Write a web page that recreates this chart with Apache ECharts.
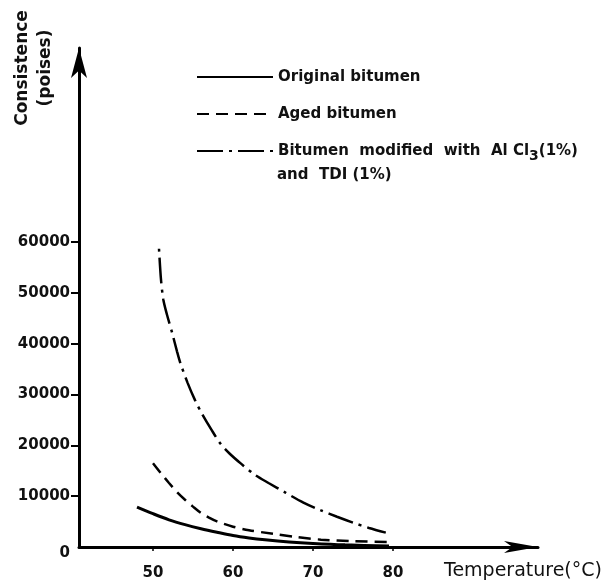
<!DOCTYPE html>
<html>
<head>
<meta charset="utf-8">
<script src="https://cdn.jsdelivr.net/npm/echarts@6/dist/echarts.min.js"></script>
<style>
  html, body { margin: 0; padding: 0; background: #ffffff; }
  #chart { width: 605px; height: 588px; }
</style>
</head>
<body>
<div id="chart"></div>
<script>
// Consistence (poises) of bitumen samples versus temperature (°C)
const seriesNames = [
  'Original bitumen',
  'Aged bitumen',
  'Bitumen modified with Al Cl3(1%) and TDI (1%)'
];

const originalTemp = [48, 50, 52, 54, 56, 58, 60, 62, 64, 67, 70, 74, 79.5];
const originalVisc = [7850, 6550, 5350, 4400, 3600, 2900, 2250, 1780, 1420, 1000, 700, 420, 200];

const agedTemp = [50, 51, 52, 53, 54, 55, 56, 57, 58, 60, 62, 65, 68, 71, 75, 80];
const agedVisc = [16500, 14500, 12600, 10800, 9300, 7950, 6700, 5800, 5050, 4000, 3300, 2600, 1950, 1450, 1150, 950];

const modifiedTemp = [50.75, 51, 51.3, 51.75, 52.4, 53, 53.4, 54.3, 55.25, 56.1, 57.3, 58.4, 59.5, 61, 62.75, 64.5, 66.5, 68.8, 71, 73, 75, 77, 79.1];
const modifiedVisc = [58700, 52600, 48600, 45700, 42100, 38500, 36300, 32400, 28900, 26300, 23100, 20400, 18500, 16400, 14200, 12550, 10750, 8750, 7200, 5950, 4800, 3750, 2830];

const tempTicks = [50, 60, 70, 80];
const viscTicks = [0, 10000, 20000, 30000, 40000, 50000, 60000];

const zip = (xs, ys) => xs.map((x, i) => [x, ys[i]]);
const FONT = 'DejaVu Sans';
const INK = '#111';

const chart = echarts.init(document.getElementById('chart'), null, { renderer: 'canvas' });

// line series without markers; the item colour is kept transparent so the
// legend shows only the stroke pattern
const lineBase = {
  type: 'line', smooth: 0.3, symbol: 'none', silent: true,
  itemStyle: { color: 'rgba(0,0,0,0)', borderWidth: 0 }
};

chart.setOption({
  animation: false,
  backgroundColor: '#ffffff',
  grid: { left: 79, right: 67, top: 48, bottom: 41 },
  legend: {
    left: 196,
    top: 66,
    padding: 0,
    orient: 'vertical',
    itemWidth: 76,
    itemHeight: 14,
    itemGap: 15,
    selectedMode: false,
    data: seriesNames,
    itemStyle: { opacity: 0 },
    lineStyle: { dashOffset: 0 },
    textStyle: {
      fontFamily: FONT, fontWeight: 'bold', fontSize: 15, color: INK,
      lineHeight: 22,
      rich: {
        sub: { fontFamily: FONT, fontWeight: 'bold', fontSize: 14, color: INK, padding: [10, 0, 0, 0] }
      }
    },
    formatter: function (name) {
      if (name === seriesNames[2]) {
        return 'Bitumen  modified  with  Al Cl{sub|3}(1%)';
      }
      return name;
    }
  },
  xAxis: {
    type: 'value',
    min: 40.75,
    max: 98.125,
    splitLine: { show: false },
    axisLine: {
      show: true,
      onZero: false,
      symbol: ['none', 'arrow'],
      symbolSize: [9, 34],
      lineStyle: { color: '#000', width: 3 }
    },
    axisTick: { show: true, inside: false, length: 4, customValues: tempTicks, lineStyle: { color: '#000', width: 1.5 } },
    axisLabel: {
      customValues: tempTicks,
      margin: 19,
      fontFamily: FONT, fontWeight: 'bold', fontSize: 15, color: INK
    }
  },
  yAxis: {
    type: 'value',
    min: 0,
    max: 98200,
    splitLine: { show: false },
    axisLine: {
      show: true,
      onZero: false,
      symbol: ['none', 'arrow'],
      symbolSize: [12, 30],
      lineStyle: { color: '#000', width: 3 }
    },
    axisTick: { show: true, inside: false, length: 8, customValues: viscTicks.slice(1), lineStyle: { color: '#000', width: 2 } },
    axisLabel: {
      customValues: viscTicks,
      margin: 9,
      fontFamily: FONT, fontWeight: 'bold', fontSize: 15, color: INK,
      formatter: function (v) { return v === 0 ? '{z|0}' : String(v); },
      rich: { z: { fontFamily: FONT, fontWeight: 'bold', fontSize: 15, color: INK, padding: [12, 0, 0, 0] } }
    }
  },
  graphic: [
    {
      type: 'text',
      x: 34, y: 68,
      rotation: Math.PI / 2,
      style: {
        text: 'Consistence\n(poises)',
        fontFamily: FONT, fontWeight: 'bold', fontSize: 17, lineHeight: 23,
        fill: INK, align: 'center', verticalAlign: 'middle'
      }
    },
    {
      type: 'text',
      x: 277, y: 175,
      style: {
        text: 'and  TDI (1%)',
        fontFamily: FONT, fontWeight: 'bold', fontSize: 15, fill: INK,
        align: 'left', verticalAlign: 'middle'
      }
    },
    {
      type: 'text',
      x: 444, y: 571,
      style: {
        text: 'Temperature(°C)',
        fontFamily: FONT, fontSize: 19, fill: INK, align: 'left', verticalAlign: 'middle'
      }
    }
  ],
  series: [
    Object.assign({}, lineBase, {
      name: seriesNames[0],
      data: zip(originalTemp, originalVisc),
      lineStyle: { color: '#000', width: 3, type: 'solid' }
    }),
    Object.assign({}, lineBase, {
      name: seriesNames[1],
      data: zip(agedTemp, agedVisc),
      lineStyle: { color: '#000', width: 2.5, type: [12, 7] }
    }),
    Object.assign({}, lineBase, {
      name: seriesNames[2],
      data: zip(modifiedTemp, modifiedVisc),
      lineStyle: { color: '#000', width: 2.5, type: [26, 6, 3, 6], dashOffset: 32 }
    })
  ]
});
</script>
</body>
</html>
